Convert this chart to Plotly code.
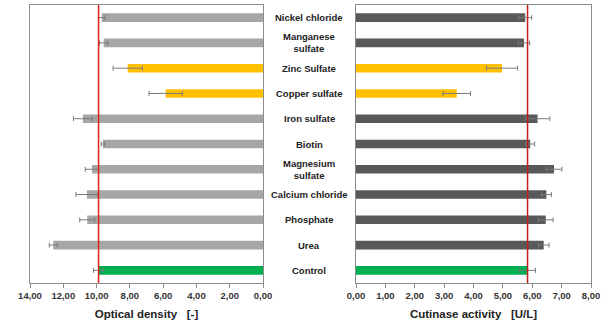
import plotly.graph_objects as go

# Media supplements, listed top to bottom
categories = ["Nickel chloride", "Manganese sulfate", "Zinc Sulfate", "Copper sulfate",
              "Iron sulfate", "Biotin", "Magnesium sulfate", "Calcium chloride",
              "Phosphate", "Urea", "Control"]
label_text = ["Nickel chloride", "Manganese<br>sulfate", "Zinc Sulfate", "Copper sulfate",
              "Iron sulfate", "Biotin", "Magnesium<br>sulfate", "Calcium chloride",
              "Phosphate", "Urea", "Control"]

# Optical density [-]
od_values = [9.69, 9.57, 8.13, 5.85, 10.82, 9.62, 10.28, 10.58, 10.56, 12.60, 9.88]
od_errors = [0.20, 0.25, 0.88, 1.00, 0.57, 0.10, 0.40, 0.66, 0.45, 0.24, 0.30]

# Cutinase activity [U/L]
act_values = [5.76, 5.72, 4.97, 3.43, 6.18, 5.93, 6.74, 6.48, 6.46, 6.39, 5.84]
act_errors = [0.22, 0.19, 0.53, 0.47, 0.42, 0.15, 0.27, 0.17, 0.25, 0.18, 0.27]

# Bar groups: inhibiting supplements and the control are highlighted
groups = ["other", "other", "inhibit", "inhibit", "other", "other", "other",
          "other", "other", "other", "control"]
od_palette = {"other": "#A6A6A6", "inhibit": "#FFC000", "control": "#00B050"}
act_palette = {"other": "#595959", "inhibit": "#FFC000", "control": "#00B050"}

font_family = "Liberation Sans, Arial, sans-serif"
frame_color = "#8c8c8c"
err_color = "#7a7a7a"

fig = go.Figure()

fig.add_trace(go.Bar(
    y=categories, x=od_values, orientation="h", width=0.34,
    marker=dict(color=[od_palette[g] for g in groups], line=dict(width=0)),
    error_x=dict(type="data", array=od_errors, visible=True,
                 color=err_color, thickness=1, width=2.5),
    xaxis="x", yaxis="y", showlegend=False,
))
fig.add_trace(go.Bar(
    y=categories, x=act_values, orientation="h", width=0.34,
    marker=dict(color=[act_palette[g] for g in groups], line=dict(width=0)),
    error_x=dict(type="data", array=act_errors, visible=True,
                 color=err_color, thickness=1, width=2.5),
    xaxis="x2", yaxis="y2", showlegend=False,
))

control_od = od_values[categories.index("Control")]
control_act = act_values[categories.index("Control")]

shapes = [
    dict(type="line", xref="x", yref="y domain", x0=control_od, x1=control_od,
         y0=0, y1=1, line=dict(color="#E0201E", width=1.5)),
    dict(type="line", xref="x2", yref="y2 domain", x0=control_act, x1=control_act,
         y0=0, y1=1, line=dict(color="#C0201E", width=1.5)),
]

annotations = [
    dict(xref="paper", yref="y", x=0.509, y=cat, text=f"<b>{txt}</b>",
         showarrow=False, xanchor="center", yanchor="middle",
         font=dict(family=font_family, size=9.5, color="#222222"))
    for cat, txt in zip(categories, label_text)
]

y_domain = [1 - 283 / 324, 1 - 5 / 324]
tick_font = dict(family=font_family, size=9.5, color="#333333", weight="bold")
title_font = dict(family=font_family, size=11.5, color="#222222", weight="bold")

common_x = dict(showline=True, linecolor=frame_color, linewidth=1, mirror=True,
                ticks="outside", ticklen=4, tickcolor=frame_color,
                showgrid=False, zeroline=False, tickformat=".2f", automargin=False,
                tickfont=tick_font, title_font=title_font, title_standoff=9)
common_y = dict(type="category", categoryorder="array", categoryarray=categories,
                range=[10.5, -0.5], showticklabels=False, ticks="", automargin=False,
                showline=True, linecolor=frame_color, linewidth=1, mirror=True,
                showgrid=False, zeroline=False, domain=y_domain)

fig.update_layout(
    width=608, height=324,
    margin=dict(l=0, r=0, t=0, b=0, autoexpand=False),
    paper_bgcolor="white", plot_bgcolor="white",
    separators=",.",
    barmode="overlay",
    xaxis=dict(domain=[30 / 608, 263 / 608], range=[14, 0], dtick=2,
               title=dict(text="Optical density   [-]"), anchor="y", **common_x),
    xaxis2=dict(domain=[356 / 608, 591 / 608], range=[0, 8], dtick=1,
                title=dict(text="Cutinase activity   [U/L]"), anchor="y2", **common_x),
    yaxis=dict(anchor="x", **common_y),
    yaxis2=dict(anchor="x2", **common_y),
    shapes=shapes,
    annotations=annotations,
)

fig.write_html("out.html")
